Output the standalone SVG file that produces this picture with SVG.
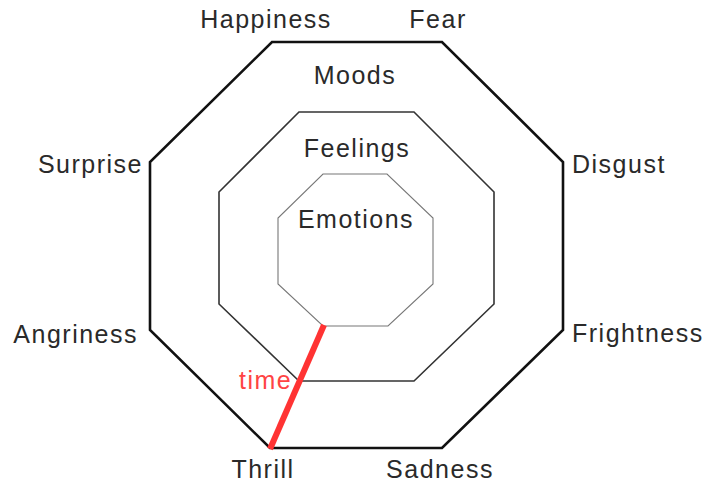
<svg xmlns="http://www.w3.org/2000/svg" width="703" height="483" viewBox="0 0 703 483">
<style>
text{font-family:"Liberation Sans",Arial,sans-serif;font-size:25px;fill:#2a2a2a;letter-spacing:1.5px}
.oct{fill:none;stroke-linejoin:miter}
.c{text-anchor:middle}
.e{text-anchor:end}
</style>
<rect width="703" height="483" fill="#fff"/>
<g id="moods">
<polygon class="oct" points="272,42 442,42 563,162 563,330 442,448 270,448 150,330 150,162" stroke="#111" stroke-width="2.6"/>
<text class="c" x="355" y="84">Moods</text>
</g>
<g id="feelings">
<polygon class="oct" points="299,112 414,112 494,192 494,304 414,381 299,381 219,304 219,192" stroke="#333" stroke-width="1.6"/>
<text class="c" x="357" y="157">Feelings</text>
</g>
<g id="emotions">
<polygon class="oct" points="323,174 387,174 433,218 433,284 388,326 323,326 278,284 278,218" stroke="#777" stroke-width="1.1"/>
<text class="c" x="356" y="228">Emotions</text>
</g>
<g id="labels">
<text class="c" x="266" y="28">Happiness</text>
<text class="c" x="438" y="28">Fear</text>
<text class="e" x="143" y="173">Surprise</text>
<text x="572" y="173">Disgust</text>
<text class="e" x="138" y="343">Angriness</text>
<text x="572" y="342">Frightness</text>
<text class="c" x="263" y="478">Thrill</text>
<text class="c" x="440" y="478">Sadness</text>
</g>
<g id="connectors">
<line x1="324" y1="325" x2="270" y2="449" stroke="#ff3333" stroke-width="6"/>
<text x="239" y="389" style="fill:#ff4444">time</text>
</g>
</svg>
